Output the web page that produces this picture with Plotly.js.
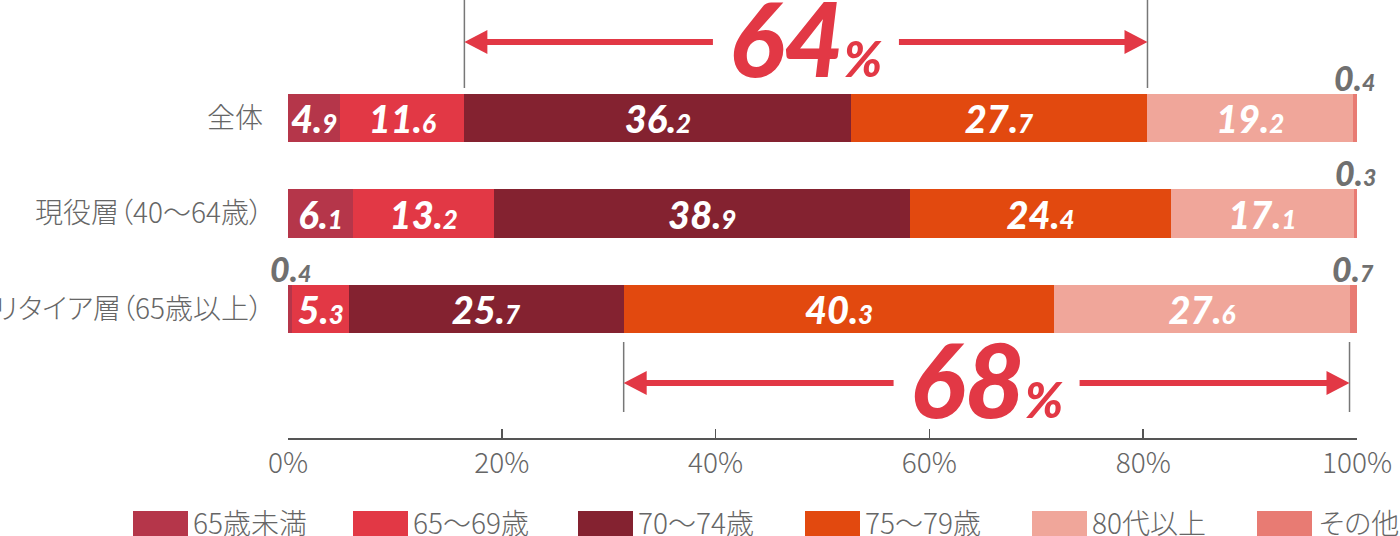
<!DOCTYPE html>
<html>
<head>
<meta charset="utf-8">
<script src="https://cdn.plot.ly/plotly-3.0.1.min.js"></script>
<style>
html,body{margin:0;padding:0;background:#fff;}
#chart{width:1400px;height:536px;}
#chart text{font-feature-settings:"palt" 1;}
</style>
</head>
<body>
<div id="chart"></div>
<script>
// ---- data ----
const categories = ['全体', '現役層（40〜64歳）', 'リタイア層（65歳以上）'];
const seriesNames = ['65歳未満', '65〜69歳', '70〜74歳', '75〜79歳', '80代以上', 'その他'];
const seriesColors = ['#B5364A', '#E23845', '#842230', '#E2490F', '#F0A69A', '#E87B73'];
const under65 = [4.9, 6.1, 0.4];
const age65to69 = [11.6, 13.2, 5.3];
const age70to74 = [36.2, 38.9, 25.7];
const age75to79 = [27.7, 24.4, 40.3];
const age80plus = [19.2, 17.1, 27.6];
const others = [0.4, 0.3, 0.7];
const xTicks = [0, 20, 40, 60, 80, 100];
const legendStartPx = [133, 353, 578, 805, 1032, 1257];

const series = [under65, age65to69, age70to74, age75to79, age80plus, others];

// ---- layout constants ----
const W = 1400, H = 536;
const mL = 288, mR = 43, mT = 0, mB = 98;
const plotW = W - mL - mR, plotH = H - mT - mB;
const pyToPaper = py => (H - mB - py) / plotH;
const pxToPaper = px => (px - mL) / plotW;

const NUMFONT = 'Lato, "Open Sans", sans-serif';
const JPFONT = '"Noto Sans CJK JP", "Noto Sans", sans-serif';
const RED = '#E23845';
const GRAY = '#707070';

function fmt(v, small) {
  const p = v.toFixed(1).split('.');
  return p[0] + '.<span style="font-size:' + small + 'px">' + p[1] + '</span>';
}

const traces = series.map((vals, i) => ({
  type: 'bar',
  orientation: 'h',
  name: seriesNames[i],
  y: categories,
  x: vals,
  width: 0.51,
  marker: {color: seriesColors[i], line: {width: 0}},
  text: vals.map(v => v < 1 ? '' : fmt(v, 26)),
  textposition: 'inside',
  insidetextanchor: 'middle',
  constraintext: 'none',
  textangle: 0,
  insidetextfont: {family: NUMFONT, size: 38, color: '#ffffff', weight: 900, style: 'italic'},
  hoverinfo: 'skip',
  showlegend: false
}));

// cumulative sums
const cum = categories.map((c, ci) => {
  const arr = [0];
  series.forEach(s => arr.push(arr[arr.length - 1] + s[ci]));
  return arr;
});

const shapes = [];
const annotations = [];

// outside small-value labels
series.forEach((vals, si) => {
  vals.forEach((v, ci) => {
    if (v < 1) {
      annotations.push({
        x: (cum[ci][si] + cum[ci][si + 1]) / 2, y: categories[ci],
        xref: 'x', yref: 'y', xanchor: 'center', yanchor: 'middle', showarrow: false, yshift: 41,
        text: fmt(v, 23),
        font: {family: NUMFONT, size: 34, color: GRAY, weight: 900, style: 'italic'}
      });
    }
  });
});

// brackets
const brackets = [
  {cat: 0, from: 2, to: 4, yArrowPx: 42, vTopPx: 0, vBotPx: 88},
  {cat: 2, from: 3, to: 5, yArrowPx: 383, vTopPx: 342, vBotPx: 412}
];
brackets.forEach(b => {
  const x0 = cum[b.cat][b.from], x1 = cum[b.cat][b.to];
  const total = Math.round(x1 - x0);
  const ya = pyToPaper(b.yArrowPx);
  [x0, x1].forEach(xv => shapes.push({
    type: 'line', xref: 'x', yref: 'paper', x0: xv, x1: xv,
    y0: pyToPaper(b.vTopPx), y1: pyToPaper(b.vBotPx),
    line: {color: '#777777', width: 1.5}
  }));
  shapes.push({type: 'line', xref: 'x', yref: 'paper', x0: x0 + 1, x1: x1 - 1, y0: ya, y1: ya,
    line: {color: RED, width: 6}});
  shapes.push({type: 'path', xref: 'x', yref: 'paper', xsizemode: 'pixel', ysizemode: 'pixel',
    xanchor: x0, yanchor: ya, path: 'M0,0 L23,12 L23,-12 Z', fillcolor: RED, line: {width: 0}});
  shapes.push({type: 'path', xref: 'x', yref: 'paper', xsizemode: 'pixel', ysizemode: 'pixel',
    xanchor: x1, yanchor: ya, path: 'M0,0 L-23,12 L-23,-12 Z', fillcolor: RED, line: {width: 0}});
  const mid = (x0 + x1) / 2;
  shapes.push({type: 'rect', xref: 'x', yref: 'paper', xsizemode: 'pixel', ysizemode: 'pixel',
    xanchor: mid, yanchor: ya, x0: -93, x1: 93, y0: -8, y1: 8, fillcolor: '#ffffff', line: {width: 0}});
  annotations.push({
    x: mid, y: ya, xref: 'x', yref: 'paper', xanchor: 'center', yanchor: 'middle',
    showarrow: false, yshift: 5,
    text: total + '<span style="font-size:50px">%</span>',
    font: {family: NUMFONT, size: 103, color: RED, weight: 900, style: 'italic'}
  });
});

// custom legend
const legTop = 511, legBot = 538, swW = 55;
seriesNames.forEach((n, i) => {
  const sx = legendStartPx[i];
  shapes.push({type: 'rect', xref: 'paper', yref: 'paper',
    x0: pxToPaper(sx), x1: pxToPaper(sx + swW), y0: pyToPaper(legTop), y1: pyToPaper(legBot),
    fillcolor: seriesColors[i], line: {width: 0}});
  annotations.push({x: pxToPaper(sx + swW + 3), y: pyToPaper(522), xref: 'paper', yref: 'paper',
    xanchor: 'left', yanchor: 'middle', showarrow: false, text: n,
    font: {family: JPFONT, size: 28, color: '#666666', weight: 300}});
});

const layout = {
  width: W, height: H,
  margin: {l: mL, r: mR, t: mT, b: mB, pad: 0},
  barmode: 'stack',
  bargap: 0,
  paper_bgcolor: '#ffffff', plot_bgcolor: '#ffffff',
  showlegend: false,
  xaxis: {
    range: [0, 100], tickvals: xTicks, ticktext: xTicks.map(t => t + '%'),
    ticks: 'inside', ticklen: 9, tickwidth: 1.5, tickcolor: '#555555',
    showline: true, linecolor: '#555555', linewidth: 1.5,
    showgrid: false, zeroline: false,
    tickfont: {family: JPFONT, size: 28, color: '#666666', weight: 300},
    fixedrange: true
  },
  yaxis: {
    type: 'category', categoryorder: 'array', categoryarray: categories,
    range: [3.35, -1.236],
    showline: false, showgrid: false, zeroline: false, ticks: '',
    ticklabelstandoff: 24,
    tickfont: {family: JPFONT, size: 28, color: '#666666', weight: 300},
    fixedrange: true
  },
  shapes: shapes,
  annotations: annotations
};

Plotly.newPlot('chart', traces, layout, {displayModeBar: false, staticPlot: true});
</script>
</body>
</html>
